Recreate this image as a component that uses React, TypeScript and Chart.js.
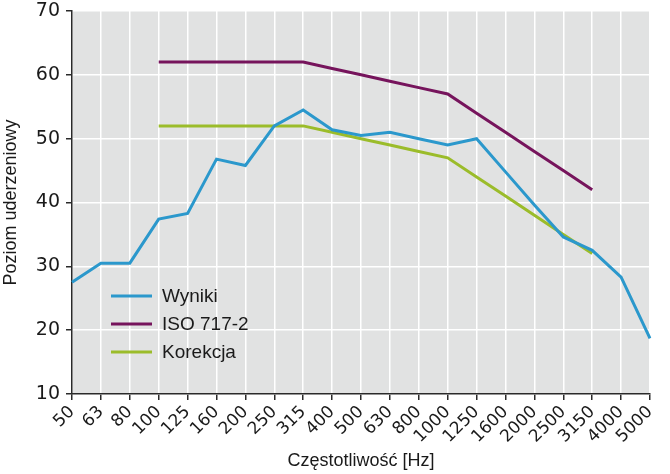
import React, { useEffect, useRef } from "react";
import { Chart, registerables } from "chart.js";

Chart.register(...registerables);

const frequencies = [
  "50", "63", "80", "100", "125", "160", "200", "250", "315", "400", "500",
  "630", "800", "1000", "1250", "1600", "2000", "2500", "3150", "4000", "5000",
];

const wyniki = [
  27.5, 30.5, 30.5, 37.4, 38.3, 46.8, 45.8, 52.0, 54.5, 51.4, 50.5,
  51.0, 50.0, 49.0, 50.0, 44.8, 39.6, 34.6, 32.5, 28.3, 18.7,
];

const iso7172 = [
  null, null, null, 62, 62, 62, 62, 62, 62, 61, 60,
  59, 58, 57, 54, 51, 48, 45, 42, null, null,
];

const korekcja = [
  null, null, null, 52, 52, 52, 52, 52, 52, 51, 50,
  49, 48, 47, 44, 41, 38, 35, 32, null, null,
];

const BLUE = "#2b98cc";
const PURPLE = "#76145c";
const GREEN = "#9bbc2a";
const PLOT_BG = "#e1e2e2";
const AXIS = "#2a2a2a";

const FONT = "'Liberation Sans', Arial, sans-serif";
const TICK_FONT = "'DejaVu Sans', sans-serif";

// Grey fill behind the plot area
const plotBackground = {
  id: "plotBackground",
  beforeDraw(chart: any) {
    const { ctx, chartArea } = chart;
    ctx.save();
    ctx.fillStyle = PLOT_BG;
    ctx.fillRect(chartArea.left, chartArea.top, chartArea.right - chartArea.left, chartArea.bottom - chartArea.top);
    ctx.restore();
  },
};

// Legend drawn inside the plot, lower-left corner
const insideLegend = {
  id: "insideLegend",
  afterDatasetsDraw(chart: any) {
    const { ctx, chartArea } = chart;
    const x0 = chartArea.left + 39;
    const y0 = chartArea.top + 285;
    ctx.save();
    ctx.font = `19px ${FONT}`;
    ctx.textBaseline = "middle";
    chart.data.datasets.forEach((ds: any, i: number) => {
      const y = y0 + i * 28;
      ctx.strokeStyle = ds.borderColor;
      ctx.lineWidth = 3;
      ctx.beginPath();
      ctx.moveTo(x0, y);
      ctx.lineTo(x0 + 41, y);
      ctx.stroke();
      ctx.fillStyle = "#1a1a1a";
      ctx.fillText(ds.label, x0 + 51, y + 1);
    });
    ctx.restore();
  },
};

export default function App() {
  const canvasRef = useRef<HTMLCanvasElement | null>(null);

  useEffect(() => {
    if (!canvasRef.current) return;
    const chart = new Chart(canvasRef.current, {
      type: "line",
      data: {
        labels: frequencies,
        datasets: [
          { label: "Wyniki", data: wyniki, borderColor: BLUE, backgroundColor: BLUE },
          { label: "ISO 717-2", data: iso7172, borderColor: PURPLE, backgroundColor: PURPLE },
          { label: "Korekcja", data: korekcja, borderColor: GREEN, backgroundColor: GREEN },
        ],
      },
      options: {
        animation: false,
        responsive: true,
        maintainAspectRatio: false,
        layout: { padding: { top: 11, right: 20, left: 0, bottom: 0 } },
        elements: {
          line: { borderWidth: 3, tension: 0 },
          point: { radius: 0 },
        },
        plugins: {
          legend: { display: false },
          tooltip: { enabled: false },
        },
        scales: {
          x: {
            offset: false,
            grid: {
              color: "#ffffff",
              lineWidth: 1.5,
              tickColor: AXIS,
              tickLength: 6,
              tickWidth: 1.5,
            },
            border: { color: AXIS, width: 1.5 },
            ticks: {
              autoSkip: false,
              maxRotation: 45,
              minRotation: 45,
              padding: 2,
              color: "#1a1a1a",
              font: { family: TICK_FONT, size: 17 },
            },
            title: {
              display: true,
              text: "Częstotliwość [Hz]",
              color: "#1a1a1a",
              font: { family: FONT, size: 18 },
              padding: { top: 0, bottom: 2 },
            },
            afterFit(scale: any) {
              scale.height = 80;
              scale.paddingLeft = 0;
              scale.paddingRight = 0;
            },
          },
          y: {
            min: 10,
            max: 70,
            ticks: {
              stepSize: 10,
              padding: 6,
              color: "#1a1a1a",
              font: { family: TICK_FONT, size: 19 },
            },
            grid: {
              color: "#ffffff",
              lineWidth: 1.5,
              tickColor: AXIS,
              tickLength: 6,
              tickWidth: 1.5,
            },
            border: { color: AXIS, width: 1.5 },
            title: {
              display: true,
              text: "Poziom uderzeniowy",
              color: "#1a1a1a",
              font: { family: FONT, size: 18 },
              padding: { top: 0, bottom: 0 },
            },
            afterFit(scale: any) {
              scale.width = 72;
              scale.paddingTop = 0;
              scale.paddingBottom = 0;
            },
          },
        },
      },
      plugins: [plotBackground, insideLegend],
    });
    return () => chart.destroy();
  }, []);

  return (
    <div style={{ position: "fixed", left: 0, top: 0, width: 670, height: 474, background: "#ffffff" }}>
      <canvas ref={canvasRef} />
    </div>
  );
}
